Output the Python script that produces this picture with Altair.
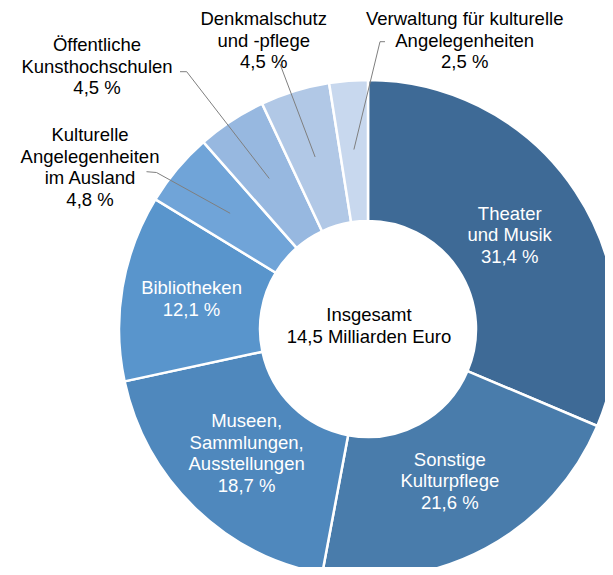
import altair as alt
import pandas as pd
import math

# ---- data ----
names = ["Theater und Musik", "Sonstige Kulturpflege", "Museen, Sammlungen, Ausstellungen",
         "Bibliotheken", "Kulturelle Angelegenheiten im Ausland", "Öffentliche Kunsthochschulen",
         "Denkmalschutz und -pflege", "Verwaltung für kulturelle Angelegenheiten"]
shares = [31.4, 21.6, 18.7, 12.1, 4.8, 4.5, 4.5, 2.5]
label_text = ["Theater\nund Musik", "Sonstige\nKulturpflege", "Museen,\nSammlungen,\nAusstellungen",
              "Bibliotheken", "Kulturelle\nAngelegenheiten\nim Ausland", "Öffentliche\nKunsthochschulen",
              "Denkmalschutz\nund -pflege", "Verwaltung für kulturelle\nAngelegenheiten"]
pct_text = ["31,4 %", "21,6 %", "18,7 %", "12,1 %", "4,8 %", "4,5 %", "4,5 %", "2,5 %"]
inside = [True, True, True, True, False, False, False, False]
center_text = "Insgesamt\n14,5 Milliarden Euro"

# ---- style / layout ----
colors = ["#3e6a96", "#497cab", "#4f88bd", "#5995cc", "#70a4d8", "#97b8e0", "#b1c8e6", "#c8d8ee"]
FONT = "Liberation Sans"
FS = 18.5
LH = 21.5
CX, CY = 360, 321          # donut centre (chart coordinates; page = chart + 8)
R_IN, R_OUT = 108, 249
R_LABEL = [170, 173, 174, 179]   # radius of the inside label blocks
R_LEADER = 180
# outer labels: label centre x, first line y, leader start (x, y), leader elbow (x, y)   (chart coords)
outer_layout = {
    4: dict(lx=82, ly=127, sx=138.5, sy=163.7, ex=148.5, ey=164.5),
    5: dict(lx=89, ly=37, sx=172, sy=63.7, ex=178.7, ey=63.7),
    6: dict(lx=255.7, ly=11, sx=272, sy=56, ex=272, ey=56),
    7: dict(lx=456.7, ly=11, sx=377, sy=33.7, ex=372, ey=33.7),
}

total = sum(shares)
mids = []
cum = 0.0
for s in shares:
    mids.append((cum + s / 2) / total * 2 * math.pi)
    cum += s

# inside labels
in_rows = []
for i in range(len(names)):
    if not inside[i]:
        continue
    txt = label_text[i] + "\n" + pct_text[i]
    n = txt.count("\n") + 1
    bx = CX + R_LABEL[i] * math.sin(mids[i])
    by = CY - R_LABEL[i] * math.cos(mids[i])
    in_rows.append({"x": bx, "y": by - (n - 1) / 2 * LH, "text": txt})
inner_df = pd.DataFrame(in_rows)

# outer labels and leader polylines
out_rows, lead_rows = [], []
for i, lay in outer_layout.items():
    out_rows.append({"x": lay["lx"], "y": lay["ly"], "text": label_text[i] + "\n" + pct_text[i]})
    px = CX + R_LEADER * math.sin(mids[i])
    py = CY - R_LEADER * math.cos(mids[i])
    for k, (x, y) in enumerate([(lay["sx"], lay["sy"]), (lay["ex"], lay["ey"]), (px, py)]):
        lead_rows.append({"id": i, "k": k, "x": x, "y": y})
outer_df = pd.DataFrame(out_rows)
lead_df = pd.DataFrame(lead_rows)

df = pd.DataFrame({"idx": list(range(len(names))), "name": names, "share": shares})

arcs = alt.Chart(df).mark_arc(innerRadius=R_IN, outerRadius=R_OUT, stroke="white", strokeWidth=2.5).encode(
    theta=alt.Theta("share:Q", stack=True),
    order=alt.Order("idx:Q"),
    color=alt.Color("name:N", scale=alt.Scale(domain=names, range=colors), legend=None),
    x=alt.value(CX), y=alt.value(CY),
)

text_style = dict(font=FONT, fontSize=FS, lineBreak="\n", align="center", baseline="middle", lineHeight=LH)

inner_labels = alt.Chart(inner_df).mark_text(color="white", **text_style).encode(
    x=alt.X("x:Q", scale=None), y=alt.Y("y:Q", scale=None), text="text:N",
)

leaders = alt.Chart(lead_df).mark_line(color="#7f7f7f", strokeWidth=1).encode(
    x=alt.X("x:Q", scale=None), y=alt.Y("y:Q", scale=None),
    detail="id:N", order="k:Q",
)

outer_labels = alt.Chart(outer_df).mark_text(color="black", **text_style).encode(
    x=alt.X("x:Q", scale=None), y=alt.Y("y:Q", scale=None), text="text:N",
)

centre = alt.Chart(pd.DataFrame({"t": [center_text]})).mark_text(color="black", **text_style).encode(
    text="t:N", x=alt.value(CX + 1), y=alt.value(CY - 14),
)

chart = alt.layer(arcs, leaders, inner_labels, outer_labels, centre).properties(
    width=597, height=559, padding=0, background="white",
    autosize=alt.AutoSizeParams(type="none"),
).configure_view(stroke=None)

chart.save("out.html", embed_options={"renderer": "svg", "actions": False})
